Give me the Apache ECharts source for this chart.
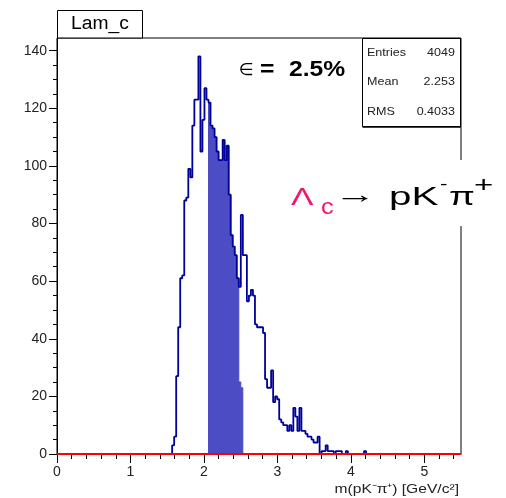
<!DOCTYPE html>
<html>
<head>
<meta charset="utf-8">
<script src="https://cdn.jsdelivr.net/npm/echarts@6/dist/echarts.min.js"></script>
<style>
  html, body { margin: 0; padding: 0; background: #fff; }
  #chart { width: 506px; height: 498px; }
</style>
</head>
<body>
<div id="chart"></div>
<script>
// Histogram binning: 200 bins over [0, 5.5] GeV/c^2
const X_MIN = 0;
const X_MAX = 5.5;
const N_BINS = 200;
const BIN_WIDTH = (X_MAX - X_MIN) / N_BINS;
const Y_MAX = 144.4;

// Lam_c candidate mass spectrum, bin contents starting at bin index 57
const firstBin = 57;
const counts = [
  3, 6, 27, 44, 61, 62, 88, 89, 99, 96,
  114, 123, 123, 138, 105, 116, 127, 123, 122, 114,
  113, 110, 105, 102, 102, 109, 102, 107, 90, 76,
  72, 69, 61, 58, 83, 69, 69, 53, 55, 57,
  55, 45, 44, 44, 44, 42, 26, 23, 23, 29,
  18, 20, 19, 12, 11, 10, 10, 8, 10, 8,
  16, 13, 8, 16, 8, 8, 7, 6, 6, 5,
  4, 4, 6, 0, 1, 1, 3, 1, 1, 1,
  0, 1, 1, 1, 0, 0, 1, 0, 0, 0,
  0, 0, 0, 0, 0, 1
];

// Entries inside the signal mass window (filled), starting at bin index 75
const windowFirstBin = 75;
const windowCounts = [
  122, 114, 113, 110, 105, 102, 102, 109, 102, 107,
  90, 76, 72, 69, 61, 25, 23
];

// Axis ticks and labels
const xMajorTicks = [0, 1, 2, 3, 4, 5];
const yMajorTicks = [0, 20, 40, 60, 80, 100, 120, 140];
const xMinorStep = 0.2;
const yMinorStep = 5;

// Statistics box
const statsLabels = ['Entries', 'Mean', 'RMS'];
const statsValues = ['4049', '2.253', '0.4033'];

const FONT = '"Liberation Sans", Arial, Helvetica, sans-serif';
const HIST_BLUE = '#00009a';
const FILL_BLUE = '#4c4cc4';

function minorTicks(max, step) {
  const out = [];
  for (let i = 0; i * step <= max + 1e-9; i++) out.push(+(i * step).toFixed(4));
  return out;
}

// step-line points: left edge of every bin, closed back to zero at the end
function stepPoints(first, values) {
  const pts = [[first * BIN_WIDTH, 0]];
  values.forEach((v, i) => pts.push([(first + i) * BIN_WIDTH, v]));
  pts.push([(first + values.length) * BIN_WIDTH, 0]);
  return pts;
}

const chart = echarts.init(document.getElementById('chart'), null, { renderer: 'canvas' });

const txt = (text, x, y, size, opts) => Object.assign({
  type: 'text', x: x, y: y, z: 100,
  style: Object.assign({ text: text, font: size + 'px ' + FONT, fill: '#000',
    align: 'left', verticalAlign: 'middle' }, (opts && opts.style) || {})
}, opts && opts.el ? opts.el : {});

const graphics = [
  // histogram title box
  { type: 'rect', z: 100, shape: { x: 57.5, y: 10.5, width: 85, height: 27.5 },
    style: { fill: '#fff', stroke: '#000', lineWidth: 1 } },
  txt('Lam_c', 100, 24, 18, { style: { align: 'center' }, el: { scaleX: 1.07 } }),

  // statistics box
  { type: 'rect', z: 100, shape: { x: 362.5, y: 38.5, width: 98, height: 88 },
    style: { fill: '#fff', stroke: '#000', lineWidth: 1 } },
  { type: 'line', z: 100, shape: { x1: 362.5, y1: 127, x2: 461, y2: 127 },
    style: { stroke: '#000', lineWidth: 1.5 } },

  // efficiency
  txt('\u2208', 239, 71, 17, { style: { font: '17px "DejaVu Sans", sans-serif' } }),
  txt('=', 260, 69.5, 22, { style: { font: 'bold 22px ' + FONT }, el: { scaleX: 1.12 } }),
  txt('2.5%', 289, 69.5, 22, { style: { font: 'bold 22px ' + FONT }, el: { scaleX: 1.12 } }),

  // decay channel label on a white panel
  { type: 'rect', z: 99, shape: { x: 283, y: 160, width: 223, height: 66 },
    style: { fill: '#fff' } },
  txt('\u039B', 291, 198, 24, { style: { fill: '#f5146e' }, el: { scaleX: 1.4 } }),
  txt('c', 321, 207.5, 22, { style: { fill: '#f5146e' }, el: { scaleX: 1.15 } }),
  txt('\u2192', 334, 196, 25, { el: { scaleX: 1.7 } }),
  txt('pK', 389, 197.5, 26, { el: { scaleX: 1.55 } }),
  txt('-', 440, 185, 16, { el: { scaleX: 1.4 } }),
  txt('\u03C0', 449, 198, 25, { el: { scaleX: 1.5 } }),
  txt('+', 474, 186, 22, { el: { scaleX: 1.5 } }),

  // x-axis title
  txt('m(pK\u207B\u03C0\u207A) [GeV/c\u00B2]', 459, 489, 13,
    { style: { align: 'right', fill: '#222' }, el: { scaleX: 1.2 } })
];

statsLabels.forEach((label, i) => {
  const y = 53 + i * 29.3;
  graphics.push(txt(label, 367, y, 11, { style: { fill: '#222' }, el: { scaleX: 1.14 } }));
  graphics.push(txt(statsValues[i], 455, y, 11, { style: { align: 'right', fill: '#222' }, el: { scaleX: 1.14 } }));
});

const axisBase = {
  type: 'value',
  splitLine: { show: false },
  axisLine: { show: false },
  axisLabel: { show: false }
};

chart.setOption({
  animation: false,
  backgroundColor: '#fff',
  textStyle: { fontFamily: FONT },
  grid: {
    left: 57, top: 38, width: 404, height: 416,
    show: true, borderColor: '#000', borderWidth: 1, backgroundColor: 'transparent'
  },
  xAxis: [
    Object.assign({}, axisBase, {
      min: X_MIN, max: X_MAX, position: 'bottom',
      axisLine: { show: true, lineStyle: { color: '#000', width: 1 } },
      axisTick: { show: true, inside: false, length: 9, customValues: xMajorTicks,
        lineStyle: { color: '#000', width: 1 } },
      axisLabel: { show: true, customValues: xMajorTicks, margin: 11, fontSize: 14,
        color: '#222', fontFamily: FONT }
    }),
    Object.assign({}, axisBase, {
      min: X_MIN, max: X_MAX, position: 'bottom',
      axisTick: { show: true, inside: false, length: 5, customValues: minorTicks(5.4, xMinorStep),
        lineStyle: { color: '#000', width: 1 } }
    })
  ],
  yAxis: [
    Object.assign({}, axisBase, {
      min: 0, max: Y_MAX, position: 'left',
      axisLine: { show: true, lineStyle: { color: '#000', width: 1 } },
      axisTick: { show: true, inside: false, length: 8, customValues: yMajorTicks,
        lineStyle: { color: '#000', width: 1 } },
      axisLabel: { show: true, customValues: yMajorTicks, margin: 10, fontSize: 14,
        color: '#222', fontFamily: FONT }
    }),
    Object.assign({}, axisBase, {
      min: 0, max: Y_MAX, position: 'left', offset: 0,
      axisTick: { show: true, inside: false, length: 4, customValues: minorTicks(140, yMinorStep),
        lineStyle: { color: '#000', width: 1 } }
    })
  ],
  series: [
    {
      name: 'window', type: 'line', step: 'end', xAxisIndex: 0, yAxisIndex: 0,
      data: stepPoints(windowFirstBin, windowCounts),
      showSymbol: false, symbol: 'none', z: 2,
      lineStyle: { color: FILL_BLUE, width: 1 },
      areaStyle: { color: FILL_BLUE, opacity: 1 }
    },
    {
      name: 'Lam_c', type: 'line', step: 'end', xAxisIndex: 0, yAxisIndex: 0,
      data: stepPoints(firstBin, counts),
      showSymbol: false, symbol: 'none', z: 3,
      lineStyle: { color: HIST_BLUE, width: 1.8 }
    },
    {
      name: 'zero', type: 'line', xAxisIndex: 0, yAxisIndex: 0,
      data: [[X_MIN, 0], [X_MAX, 0]], clip: false,
      showSymbol: false, symbol: 'none', z: 4,
      lineStyle: { color: '#ff0000', width: 2 }
    }
  ],
  graphic: { elements: graphics }
});
</script>
</body>
</html>
